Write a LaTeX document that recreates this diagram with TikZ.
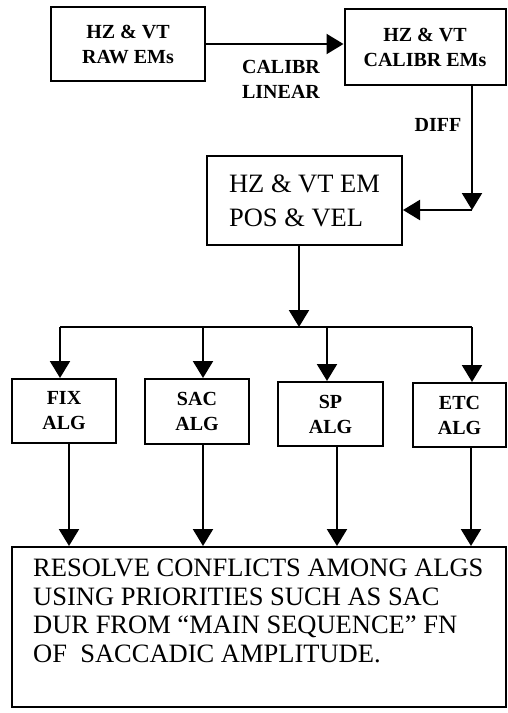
\documentclass[tikz,border=0pt]{standalone}
\usepackage{fontspec}
\setmainfont{Liberation Serif}
\usetikzlibrary{arrows.meta}
\begin{document}
\begin{tikzpicture}[x=1pt,y=-1pt,
  box/.style={draw, line width=2pt, inner sep=0pt},
  small/.style={font=\fontsize{20}{25}\selectfont\bfseries, align=center},
  big/.style={font=\fontsize{26.5}{34}\selectfont, align=left},
  bigtext/.style={font=\fontsize{26.5}{28.5}\selectfont, align=left},
  arr/.style={line width=2.2pt, -{Triangle[width=20pt,length=17pt]}},
  ln/.style={line width=2.2pt}]
\useasboundingbox (0,0) rectangle (507,713);
% boxes
\node[box, small, minimum width=154pt, minimum height=74pt] (raw) at (128,44) {HZ \& VT\\RAW EMs};
\node[box, small, minimum width=161pt, minimum height=76pt] (cal) at (425,47) {HZ \& VT\\CALIBR EMs};
\node[box, big, minimum width=195pt, minimum height=89pt] (pos) at (304.5,200.5) {HZ \& VT EM\\POS \& VEL};
\node[box, small, minimum width=104pt, minimum height=64pt] (fix) at (64,411) {FIX\\ALG};
\node[box, small, minimum width=104pt, minimum height=65pt] (sac) at (197,411.5) {SAC\\ALG};
\node[box, small, minimum width=105pt, minimum height=64pt] (sp) at (330.5,414) {SP\\ALG};
\node[box, small, minimum width=93pt, minimum height=64pt] (etc) at (459.5,415) {ETC\\ALG};
\node[box, minimum width=494pt, minimum height=160pt] (res) at (259,627) {};
\node[bigtext, inner sep=0pt, anchor=north west] (restext) at (33,559)
  {RESOLVE CONFLICTS AMONG ALGS\\USING PRIORITIES SUCH AS SAC\\DUR FROM “MAIN SEQUENCE” FN\\OF\ \ SACCADIC AMPLITUDE.};
% labels
\node[small] (lcal) at (281,79) {CALIBR\\LINEAR};
\node[small] (ldiff) at (438,125) {DIFF};
% coordinates
\coordinate (c1) at (472,210);
\coordinate (br) at (299,327);
\coordinate (bl) at (60,327);
\coordinate (b2) at (203,327);
\coordinate (b3) at (327,327);
\coordinate (b4) at (472,327);
\coordinate (o1) at (69,0);
\coordinate (o2) at (203,0);
\coordinate (o3) at (337,0);
\coordinate (o4) at (471,0);
% connectors
\draw[arr] (raw.east) -- (cal.west |- raw.east);
\draw[arr] (cal.south -| c1) -- (c1);
\draw[arr] (c1) -- (pos.east |- c1);
\draw[arr] (pos.south -| br) -- (br);
\draw[ln] (bl) -- (b4);
\draw[arr] (bl) -- (fix.north -| bl);
\draw[arr] (b2) -- (sac.north -| b2);
\draw[arr] (b3) -- (sp.north -| b3);
\draw[arr] (b4) -- (etc.north -| b4);
\draw[arr] (fix.south -| o1) -- (res.north -| o1);
\draw[arr] (sac.south -| o2) -- (res.north -| o2);
\draw[arr] (sp.south -| o3) -- (res.north -| o3);
\draw[arr] (etc.south -| o4) -- (res.north -| o4);
\end{tikzpicture}
\end{document}
